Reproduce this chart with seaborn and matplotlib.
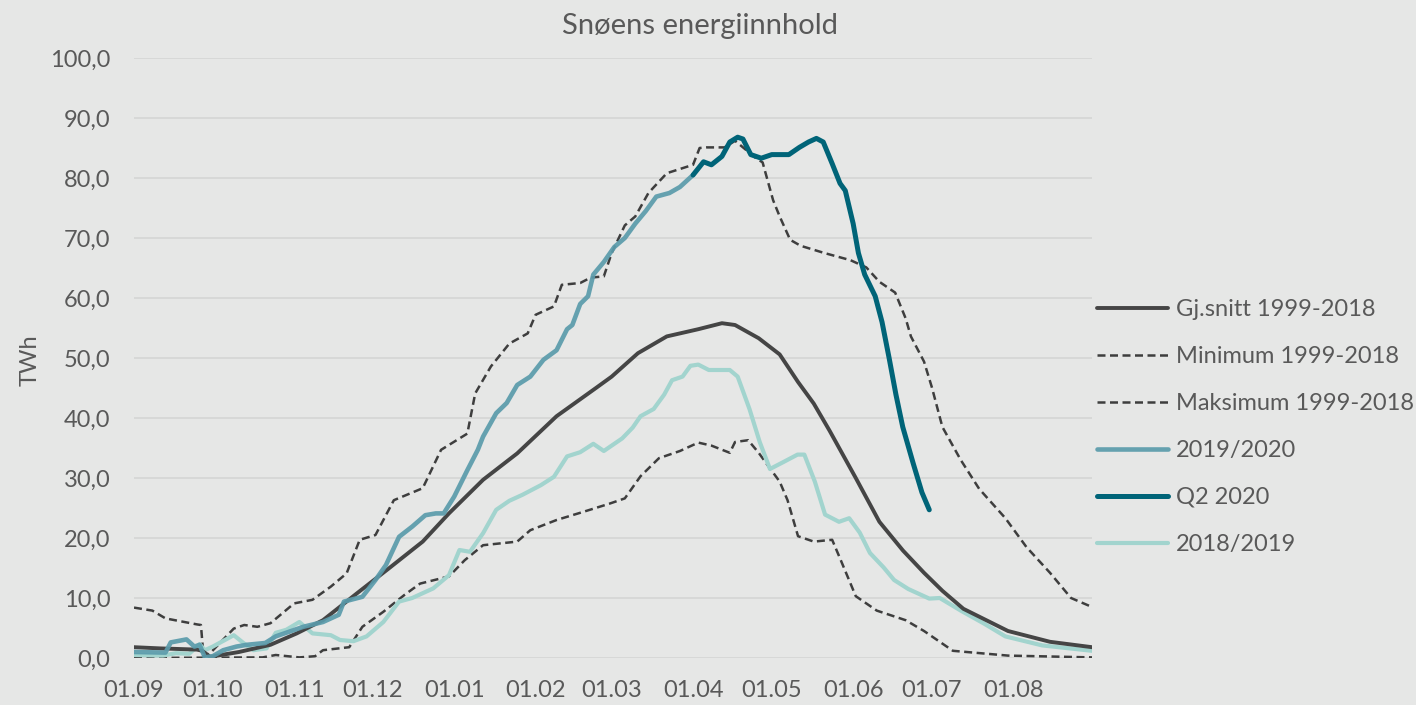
import numpy as np
import pandas as pd
import matplotlib
matplotlib.use("Agg")
import matplotlib.pyplot as plt
import matplotlib.dates as mdates
from matplotlib.ticker import FuncFormatter, MultipleLocator
import seaborn as sns

# ---------------- data (days since 01.09, TWh) ----------------
start = pd.Timestamp("2019-09-01")

mean_days = [0, 10, 24, 26, 29, 40, 52, 62, 72, 85, 97, 110, 120, 133, 146, 161, 176, 182,
             192, 203, 215, 224, 229, 238, 246, 253, 259, 265, 275, 284, 293, 301, 308, 316,
             333, 349, 365]
mean_vals = [1.8, 1.6, 1.4, 1.2, 0.2, 1.0, 2.2, 4.1, 6.3, 10.8, 14.9, 19.4, 24.1, 29.7, 34.1,
             40.3, 45.0, 46.9, 50.8, 53.6, 54.8, 55.8, 55.5, 53.3, 50.6, 46.0, 42.4, 37.9, 30.0,
             22.7, 17.9, 14.2, 11.2, 8.2, 4.5, 2.7, 1.8]

min_days = [0, 49, 54, 63, 69, 72, 82, 87, 95, 103, 109, 120, 126, 133, 146, 151, 161, 170,
            181, 187, 193, 200, 208, 215, 220, 227, 229, 234, 238, 246, 249, 253, 259, 266,
            269, 275, 283, 294, 301, 312, 333, 365]
min_vals = [0.0, 0.1, 0.5, 0.1, 0.3, 1.3, 1.8, 5.2, 7.7, 10.5, 12.4, 13.6, 16.3, 18.8, 19.4,
            21.3, 23.0, 24.2, 25.7, 26.6, 30.3, 33.3, 34.5, 35.9, 35.4, 34.2, 36.0, 36.3, 34.2,
            29.4, 26.3, 20.3, 19.4, 19.7, 16.6, 10.3, 7.9, 6.3, 4.5, 1.2, 0.4, 0.1]

max_days = [0, 7, 12, 24, 25.5, 26.5, 29, 38, 42, 47, 52, 61, 68, 75, 81, 86, 92, 99, 110,
            117, 127, 130, 136, 143, 150, 153, 160, 163, 170, 174, 179, 182, 187, 191, 196,
            203, 213, 215.5, 218, 225, 229, 237, 239.5, 243.5, 246, 250, 254, 263, 273, 279,
            284, 290, 294, 296, 301, 304, 308, 315, 322, 332, 340, 349, 357, 365]
max_vals = [8.4, 7.9, 6.6, 5.6, 5.5, 0.2, 0.8, 4.9, 5.5, 5.2, 5.8, 9.1, 9.7, 11.9, 14.1, 19.7,
            20.5, 26.3, 28.3, 34.7, 37.4, 44.1, 48.6, 52.4, 54.1, 57.2, 58.6, 62.2, 62.5, 63.4,
            63.6, 67.5, 72.1, 73.6, 77.5, 80.8, 82.2, 85.0, 85.1, 85.1, 86.2, 83.3, 82.6, 76.3,
            73.6, 69.7, 68.7, 67.5, 66.3, 65.1, 62.7, 60.9, 56.6, 53.6, 49.4, 45.1, 38.5, 33.0,
            28.2, 23.3, 18.5, 14.2, 10.0, 8.5]

y1920_days = [0, 12, 14, 20, 23, 25, 27, 30, 34, 39, 43, 50, 54, 64.5, 72, 78, 80, 87, 92,
              96, 101, 106, 111, 115, 118, 122, 127, 131, 133, 138, 142, 146, 151, 156, 161,
              165, 167, 170, 173, 175, 179, 183, 187, 191, 195, 199, 204, 208, 213]
y1920_vals = [1.0, 0.9, 2.6, 3.1, 1.9, 2.2, 0.1, 0.3, 1.3, 1.9, 2.2, 2.5, 3.6, 5.2, 6.0, 7.2,
              9.4, 10.2, 13.0, 15.5, 20.2, 21.9, 23.8, 24.1, 24.1, 26.9, 31.3, 34.7, 36.9, 40.8,
              42.5, 45.5, 46.9, 49.7, 51.3, 54.8, 55.5, 59.0, 60.3, 63.9, 66.0, 68.5, 70.0,
              72.4, 74.5, 76.9, 77.5, 78.5, 80.5]

q2_days = [213, 217, 220, 224, 227, 230, 232, 235, 239, 243, 249.5, 253.5, 257, 260, 262.6,
           266, 269, 271, 274, 276, 278.4, 282.4, 285, 287.7, 290.3, 292.9, 296.9, 300.2, 303]
q2_vals = [80.5, 82.7, 82.2, 83.6, 86.0, 86.8, 86.5, 83.9, 83.3, 83.9, 83.9, 85.1, 86.0, 86.6,
           86.0, 82.4, 79.1, 77.9, 72.4, 67.5, 63.9, 60.3, 56.0, 50.0, 43.9, 38.5, 32.4, 27.6,
           24.7]

y1819_days = [0, 11, 16, 21, 25, 27, 30, 38, 42, 45.5, 50.5, 54, 58, 63, 68, 75, 78.5, 83.6,
              88.6, 95, 101, 106, 114, 120, 124, 128, 133, 138, 143, 148, 155, 160, 165, 170,
              175, 179, 186, 190, 193, 198, 202, 205, 209, 212, 215, 219, 227, 230, 234.5,
              238.4, 242.3, 247.6, 252.8, 255.4, 259.4, 263.3, 268.6, 272.5, 276.5, 280.4,
              285.6, 289.6, 295, 303, 307, 315, 324, 332, 346, 365]
y1819_vals = [0.5, 0.4, 0.8, 0.7, 2.3, 1.3, 1.9, 3.8, 2.4, 1.3, 1.6, 4.2, 4.7, 6.0, 4.1, 3.8,
              3.0, 2.8, 3.6, 6.0, 9.4, 10.0, 11.6, 13.8, 18.0, 17.7, 20.8, 24.7, 26.2, 27.2,
              28.8, 30.2, 33.6, 34.3, 35.7, 34.5, 36.6, 38.4, 40.3, 41.5, 43.9, 46.3, 46.9,
              48.7, 48.9, 48.0, 48.0, 46.9, 41.5, 36.0, 31.5, 32.7, 33.9, 33.9, 29.4, 23.9,
              22.7, 23.3, 20.9, 17.5, 15.1, 13.0, 11.5, 9.9, 10.0, 7.9, 5.7, 3.6, 2.1, 1.2]

labels = ["Gj.snitt 1999-2018", "Minimum 1999-2018", "Maksimum 1999-2018",
          "2019/2020", "Q2 2020", "2018/2019"]


def to_dates(days):
    return start + pd.to_timedelta(np.array(days, dtype=float), unit="D")


# ---------------- style ----------------
BG = "#e6e7e6"
TXT = "#595959"
sns.set_theme(style="white")
plt.rcParams["font.family"] = ["Lato", "DejaVu Sans"]
plt.rcParams["text.color"] = TXT

fig = plt.figure(figsize=(14.16, 7.05), dpi=100, facecolor=BG)
L, R = 134 / 1416, 1092 / 1416
B, T = 1 - 658 / 705, 1 - 58 / 705
ax = fig.add_axes([L, B, R - L, T - B])
ax.set_facecolor(BG)

dash = (0, (3.2, 1.8))
series = [
    (min_days, min_vals, labels[1], dict(color="#3e3e3e", lw=1.8, linestyle=dash)),
    (max_days, max_vals, labels[2], dict(color="#3e3e3e", lw=1.8, linestyle=dash)),
    (y1819_days, y1819_vals, labels[5], dict(color="#a2d4ce", lw=3.0)),
    (mean_days, mean_vals, labels[0], dict(color="#454545", lw=2.8)),
    (y1920_days, y1920_vals, labels[3], dict(color="#5a9bab", lw=3.3, alpha=0.92)),
    (q2_days, q2_vals, labels[4], dict(color="#006478", lw=3.6)),
]
for d, v, lab, kw in series:
    df = pd.DataFrame({"dato": to_dates(d), "TWh": v})
    sns.lineplot(data=df, x="dato", y="TWh", ax=ax, label=lab, estimator=None,
                 sort=False, solid_capstyle="round", **kw)

ax.set_xlim(pd.Timestamp("2019-09-01"), pd.Timestamp("2020-08-31"))
ax.set_ylim(0, 100)
ax.yaxis.set_major_locator(MultipleLocator(10))
ax.yaxis.set_major_formatter(FuncFormatter(lambda v, p: f"{v:.1f}".replace(".", ",")))
ax.xaxis.set_major_locator(mdates.MonthLocator(bymonthday=1))
ax.xaxis.set_major_formatter(mdates.DateFormatter("%d.%m"))
ax.grid(axis="y", color="#d6d7d6", lw=1.3)
ax.grid(axis="x", visible=False)
ax.set_axisbelow(True)
for s in ax.spines.values():
    s.set_visible(False)
ax.tick_params(axis="y", length=0, pad=17, labelsize=17, labelcolor=TXT)
ax.tick_params(axis="x", length=0, pad=16, labelsize=17, labelcolor=TXT)
ax.set_xlabel("")
ax.set_ylabel("")

fig.text(30 / 1416, 1 - 360 / 705, "TWh", rotation=90, ha="center", va="center",
         fontsize=17, color=TXT)
fig.text(700 / 1416, 1 - 26 / 705, "Snøens energiinnhold", ha="center", va="center",
         fontsize=21, color=TXT)

handles, labs = ax.get_legend_handles_labels()
order = [labs.index(l) for l in labels]
ax.legend([handles[i] for i in order], [labs[i] for i in order],
          loc="center left", bbox_to_anchor=(1097 / 1416, 1 - 427 / 705),
          bbox_transform=fig.transFigure, frameon=False, fontsize=17,
          handlelength=3.0, handletextpad=0.35, labelspacing=1.1,
          borderpad=0, borderaxespad=0, labelcolor=TXT)

fig.savefig("out.png", dpi=100, facecolor=BG)
